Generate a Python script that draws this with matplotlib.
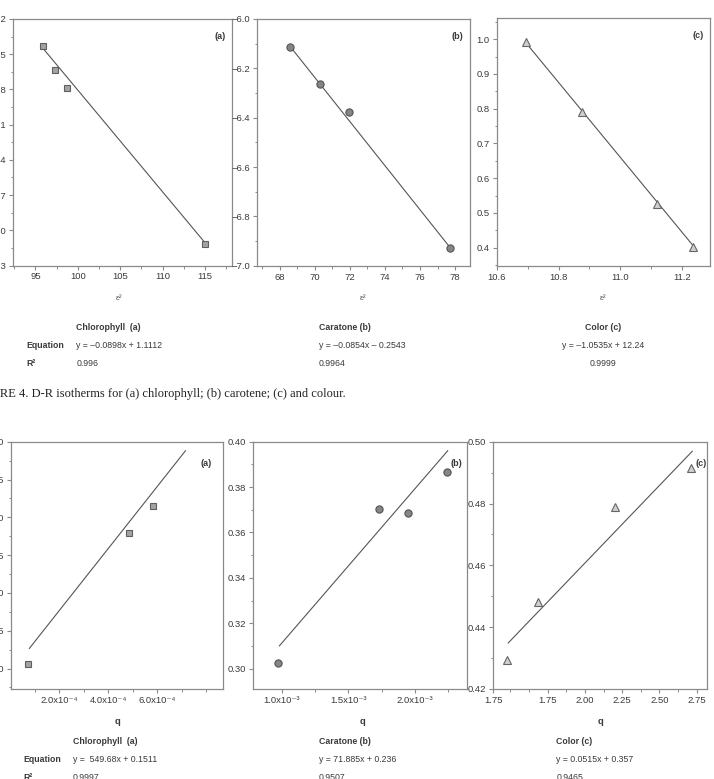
import numpy as np
import matplotlib
matplotlib.use('Agg')
import matplotlib.pyplot as plt
from matplotlib.ticker import MultipleLocator

plt.rcParams['font.family'] = ['Liberation Sans', 'DejaVu Sans']

# ---- data ----
# D-R isotherms (top row), x = eps^2
eps_a = [95.9, 97.3, 98.76, 115.0]
lnq_a = [-7.43, -7.634, -7.785, -9.12]
fit_eps_a = [95.9, 114.8]
fit_lnq_a = [-7.45, -9.09]

eps_b = [68.59, 70.31, 71.94, 77.7]
lnq_b = [-6.112, -6.262, -6.377, -6.93]
fit_eps_b = [68.59, 77.7]
fit_lnq_b = [-6.11, -6.925]

eps_c = [10.694, 10.876, 11.119, 11.236]
lnq_c = [0.993, 0.79, 0.527, 0.403]
fit_eps_c = [10.694, 11.236]
fit_lnq_c = [0.99, 0.405]

# bottom row, x = q
q_a = [0.74e-4, 4.85e-4, 5.82e-4]
y_a = [0.206, 0.3796, 0.415]
fit_q_a = [0.78e-4, 7.15e-4]
fit_y_a = [0.2267, 0.488]

q_b = [0.972e-3, 1.729e-3, 1.945e-3, 2.243e-3]
y_b = [0.3023, 0.3704, 0.3685, 0.3866]
fit_q_b = [0.98e-3, 2.246e-3]
fit_y_b = [0.31, 0.396]

q_c = [1.48, 1.687, 2.199, 2.712]
y_c = [0.4293, 0.4481, 0.4789, 0.4914]
fit_q_c = [1.486, 2.72]
fit_y_c = [0.4349, 0.4969]

# table rows
top_names = ['Chlorophyll  (a)', 'Caratone (b)', 'Color (c)']
top_eqs = ['y = \u20130.0898x + 1.1112', 'y = \u20130.0854x \u2013 0.2543', 'y = \u20131.0535x + 12.24']
top_r2 = ['0.996', '0.9964', '0.9999']
bot_names = ['Chlorophyll  (a)', 'Caratone (b)', 'Color (c)']
bot_eqs = ['y =  549.68x + 0.1511', 'y = 71.885x + 0.236', 'y = 0.0515x + 0.357']
bot_r2 = ['0.9997', '0.9507', '0.9465']

caption = 'FIGURE 4. D-R isotherms for (a) chlorophyll; (b) carotene; (c) and colour.'

W, H = 714, 779
fig = plt.figure(figsize=(W / 100, H / 100), dpi=100)

SPINE = '#8a8a8a'
LINE = '#555555'
TXT = '#3a3a3a'


def px_axes(l, t, r, b):
    ax = fig.add_axes([l / W, 1 - b / H, (r - l) / W, (b - t) / H])
    for s in ax.spines.values():
        s.set_color(SPINE)
        s.set_linewidth(0.9)
    ax.tick_params(which='both', direction='out', colors=SPINE,
                   labelcolor=TXT, labelsize=6.8, pad=2,
                   top=False, right=False)
    ax.tick_params(which='major', length=3, width=0.8)
    ax.tick_params(which='minor', length=1.8, width=0.7)
    return ax


def ftext(x, y, s, **kw):
    kw.setdefault('va', 'center')
    kw.setdefault('color', TXT)
    fig.text(x / W, 1 - y / H, s, **kw)


sq = dict(marker='s', ms=4.8, mfc='#a3a3a3', mec='#5f5f5f', mew=0.8, ls='none')
ci = dict(marker='o', ms=5.2, mfc='#858585', mec='#555555', mew=0.8, ls='none')
tr = dict(marker='^', ms=6.0, mfc='#cfcfcf', mec='#666666', mew=0.8, ls='none')

# ---- top row ----
ax = px_axes(13.3, 19, 232.3, 265.5)
ax.plot(fit_eps_a, fit_lnq_a, color=LINE, lw=0.8)
ax.plot(eps_a, lnq_a, **sq)
ax.set_xlim(92.4, 118.2)
ax.set_ylim(-9.3, -7.2)
ax.set_xticks([95, 100, 105, 110, 115])
ax.set_yticks(np.arange(-9.3, -7.19, 0.3))
ax.yaxis.set_major_formatter('{x:.1f}')
ax.xaxis.set_minor_locator(MultipleLocator(2.5))
ax.yaxis.set_minor_locator(MultipleLocator(0.15))
ax.text(0.97, 0.93, '(a)', transform=ax.transAxes, ha='right', va='center',
        fontsize=6.5, fontweight='bold', color=TXT)

ax = px_axes(256.7, 19, 470, 265.7)
ax.plot(fit_eps_b, fit_lnq_b, color=LINE, lw=0.8)
ax.plot(eps_b, lnq_b, **ci)
ax.set_xlim(66.7, 78.85)
ax.set_ylim(-7.0, -6.0)
ax.set_xticks([68, 70, 72, 74, 76, 78])
ax.set_yticks(np.arange(-7.0, -5.99, 0.2))
ax.yaxis.set_major_formatter('{x:.1f}')
ax.xaxis.set_minor_locator(MultipleLocator(1))
ax.yaxis.set_minor_locator(MultipleLocator(0.1))
ax.text(0.97, 0.93, '(b)', transform=ax.transAxes, ha='right', va='center',
        fontsize=6.5, fontweight='bold', color=TXT)

ax = px_axes(496.7, 18.3, 710, 265.7)
ax.plot(fit_eps_c, fit_lnq_c, color=LINE, lw=0.8)
ax.plot(eps_c, lnq_c, **tr)
ax.set_xlim(10.6, 11.29)
ax.set_ylim(0.348, 1.06)
ax.set_xticks([10.6, 10.8, 11.0, 11.2])
ax.set_yticks([0.4, 0.5, 0.6, 0.7, 0.8, 0.9, 1.0])
ax.xaxis.set_major_formatter('{x:.1f}')
ax.yaxis.set_major_formatter('{x:.1f}')
ax.xaxis.set_minor_locator(MultipleLocator(0.1))
ax.yaxis.set_minor_locator(MultipleLocator(0.05))
ax.text(0.97, 0.93, '(c)', transform=ax.transAxes, ha='right', va='center',
        fontsize=6.5, fontweight='bold', color=TXT)

for x in [119, 363, 603]:
    ftext(x, 298, '\u03b5\u00b2', ha='center', fontsize=6, color='#555555')

# top table
ftext(26, 346, 'Equation', fontsize=6.3, fontweight='bold')
ftext(26, 364, 'R\u00b2', fontsize=6.3, fontweight='bold')
for i, xl in enumerate([76.5, 318.8]):
    ftext(xl, 328, top_names[i], fontsize=6.3, fontweight='bold')
    ftext(xl, 346, top_eqs[i], fontsize=6.3)
    ftext(xl, 364, top_r2[i], fontsize=6.3)
ftext(603, 328, top_names[2], fontsize=6.3, fontweight='bold', ha='center')
ftext(603, 346, top_eqs[2], fontsize=6.3, ha='center')
ftext(603, 364, top_r2[2], fontsize=6.3, ha='center')

# caption runs off the left edge, as in the scan
ftext(346, 394, caption, ha='right', fontsize=9, color='#222222',
      family=['Liberation Serif', 'DejaVu Serif'])

# ---- bottom row ----
ax = px_axes(11, 441.7, 222.7, 689)
ax.plot(fit_q_a, fit_y_a, color=LINE, lw=0.8)
ax.plot(q_a, y_a, **sq)
ax.set_xlim(0.03e-4, 8.67e-4)
ax.set_ylim(0.173, 0.50)
ax.set_xticks([2e-4, 4e-4, 6e-4],
              ['2.0x10\u207b\u2074', '4.0x10\u207b\u2074', '6.0x10\u207b\u2074'])
ax.set_yticks([0.20, 0.25, 0.30, 0.35, 0.40, 0.45, 0.50])
ax.yaxis.set_major_formatter('{x:.2f}')
ax.xaxis.set_minor_locator(MultipleLocator(1e-4))
ax.yaxis.set_minor_locator(MultipleLocator(0.025))
ax.text(0.95, 0.91, '(a)', transform=ax.transAxes, ha='right', va='center',
        fontsize=6.5, fontweight='bold', color=TXT)

ax = px_axes(253.3, 441.7, 466.7, 689)
ax.plot(fit_q_b, fit_y_b, color=LINE, lw=0.8)
ax.plot(q_b, y_b, **ci)
ax.set_xlim(0.784e-3, 2.389e-3)
ax.set_ylim(0.291, 0.40)
ax.set_xticks([1.0e-3, 1.5e-3, 2.0e-3],
              ['1.0x10\u207b\u00b3', '1.5x10\u207b\u00b3', '2.0x10\u207b\u00b3'])
ax.set_yticks([0.30, 0.32, 0.34, 0.36, 0.38, 0.40])
ax.yaxis.set_major_formatter('{x:.2f}')
ax.xaxis.set_minor_locator(MultipleLocator(0.25e-3))
ax.yaxis.set_minor_locator(MultipleLocator(0.01))
ax.text(0.98, 0.91, '(b)', transform=ax.transAxes, ha='right', va='center',
        fontsize=6.5, fontweight='bold', color=TXT)

ax = px_axes(493.3, 441.7, 707, 689)
ax.plot(fit_q_c, fit_y_c, color=LINE, lw=0.8)
ax.plot(q_c, y_c, **tr)
ax.set_xlim(1.386, 2.819)
ax.set_ylim(0.42, 0.50)
ax.set_xticks([1.386, 1.75, 2.0, 2.25, 2.5, 2.75],
              ['1.75', '1.75', '2.00', '2.25', '2.50', '2.75'])
ax.set_yticks([0.42, 0.44, 0.46, 0.48, 0.50])
ax.yaxis.set_major_formatter('{x:.2f}')
ax.xaxis.set_minor_locator(MultipleLocator(0.125))
ax.yaxis.set_minor_locator(MultipleLocator(0.01))
ax.text(1.0, 0.91, '(c)', transform=ax.transAxes, ha='right', va='center',
        fontsize=6.5, fontweight='bold', color=TXT)

for x in [117.5, 362, 600]:
    ftext(x, 722, 'q', ha='center', fontsize=6.8, fontweight='bold')

# bottom table
ftext(23.7, 759, 'Equation', fontsize=6.3, fontweight='bold')
ftext(23.7, 777, 'R\u00b2', fontsize=6.3, fontweight='bold')
for i, xl in enumerate([72.9, 318.8, 556.5]):
    ftext(xl, 741, bot_names[i], fontsize=6.3, fontweight='bold')
    ftext(xl, 759, bot_eqs[i], fontsize=6.3)
    ftext(xl, 777, bot_r2[i], fontsize=6.3)

fig.savefig('out.png', dpi=100)
